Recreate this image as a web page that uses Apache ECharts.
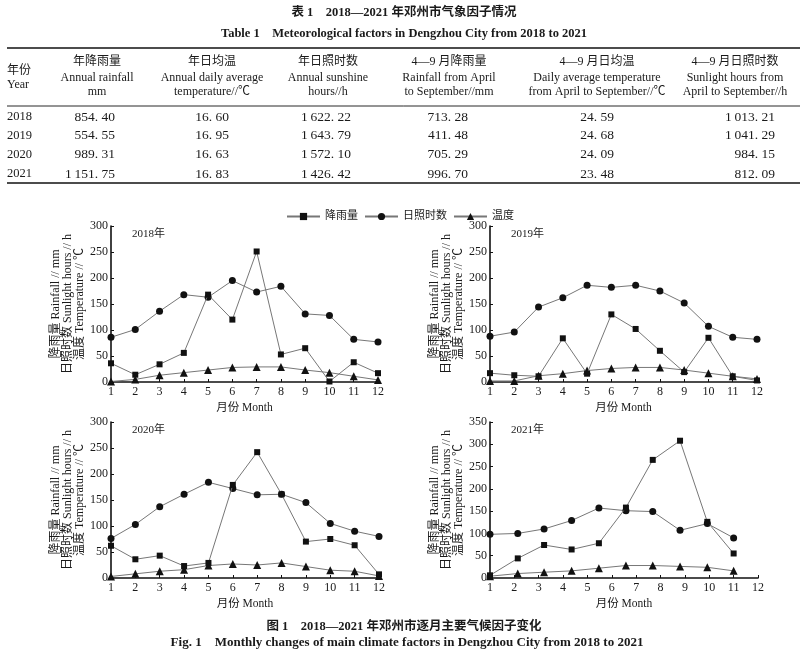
<!DOCTYPE html>
<html><head><meta charset="utf-8">
<script src="https://cdn.jsdelivr.net/npm/echarts@6/dist/echarts.min.js"></script>
<style>html,body{margin:0;padding:0;background:#fff}#main{width:800px;height:659px}</style>
</head><body><div id="main"></div>
<script>
// ---------- Table data ----------
const tableYears = ['2018', '2019', '2020', '2021'];
const annualRainfall = [854.40, 554.55, 989.31, 1151.75];
const annualTemp = [16.60, 16.95, 16.63, 16.83];
const annualSunshine = [1622.22, 1643.79, 1572.10, 1426.42];
const rainAprSep = [713.28, 411.48, 705.29, 996.70];
const tempAprSep = [24.59, 24.68, 24.09, 23.48];
const sunAprSep = [1013.21, 1041.29, 984.15, 812.09];

// ---------- Chart data ----------
const months = [1, 2, 3, 4, 5, 6, 7, 8, 9, 10, 11, 12];
const months2021 = [1, 2.14, 3.22, 4.35, 5.47, 6.58, 7.68, 8.8, 9.92, 11];
const xTicks = ['1','2','3','4','5','6','7','8','9','10','11','12'];

const rain2018 = [36, 14, 34, 56, 168, 120, 251, 53, 65, 1, 38, 17];
const sun2018 = [86, 101, 136, 168, 163, 195, 173, 184, 131, 128, 82, 77];
const temp2018 = [1, 5, 13, 18, 23, 28, 29, 29, 23, 18, 11, 4];

const rain2019 = [17, 13, 11, 84, 16, 130, 102, 60, 19, 85, 11, 3];
const sun2019 = [88, 96, 144, 162, 186, 182, 186, 175, 152, 107, 86, 82];
const temp2019 = [2, 2, 12, 16, 22, 26, 28, 28, 23, 17, 11, 6];

const rain2020 = [62, 36, 43, 23, 29, 179, 242, 161, 70, 75, 63, 7];
const sun2020 = [76, 103, 137, 161, 184, 172, 160, 161, 145, 105, 90, 80];
const temp2020 = [3, 8, 13, 16, 24, 27, 25, 29, 22, 15, 13, 4];

const rain2021 = [6, 44, 74, 64, 78, 158, 265, 308, 126, 55];
const sun2021 = [98, 100, 110, 129, 157, 151, 149, 107, 122, 90];
const temp2021 = [4, 10, 13, 16, 22, 28, 28, 26, 24, 16];

const yearLabels = ['2018年', '2019年', '2020年', '2021年'];
const seriesNames = ['降雨量', '日照时数', '温度'];
const yMaxes = [300, 300, 300, 350];

// ---------- Layout ----------
const SERIF = '"Liberation Serif","Noto Sans CJK SC",serif';
const grids = [
  {left: 111, top: 226, width: 267, height: 156},
  {left: 490, top: 226, width: 267, height: 156},
  {left: 111, top: 422, width: 268, height: 156},
  {left: 490, top: 422, width: 268, height: 156}
];
const xsAll = [months, months, months, months2021];
const rainAll = [rain2018, rain2019, rain2020, rain2021];
const sunAll = [sun2018, sun2019, sun2020, sun2021];
const tempAll = [temp2018, temp2019, temp2020, temp2021];
const symbols = ['rect', 'circle', 'triangle'];
const symSizes = [6, 7, 8];

function fmt(v) {
  const s = v.toFixed(2);
  let [ip, dp] = s.split('.');
  if (ip.length > 3) ip = ip.slice(0, ip.length - 3) + '\u2009' + ip.slice(ip.length - 3);
  return ip + '. ' + dp;
}

const graphic = [];
function txt(text, x, y, align, font, extra) {
  graphic.push(Object.assign({
    type: 'text', x: x, y: y, silent: true,
    style: {text: text, font: font, fill: '#1a1a1a', textAlign: align, textVerticalAlign: 'middle', align: align, verticalAlign: 'middle'}
  }, extra || {}));
}
function hline(y, w) {
  graphic.push({type: 'line', silent: true, shape: {x1: 7, y1: y, x2: 800, y2: y}, style: {stroke: '#111', lineWidth: w}});
}

// titles
txt('表 1　2018—2021 年邓州市气象因子情况', 404, 13, 'center', 'bold 12.5px ' + SERIF);
txt('Table 1　Meteorological factors in Dengzhou City from 2018 to 2021', 404, 34, 'center', 'bold 12.5px ' + SERIF);
hline(48, 1.6);
hline(106, 0.9);
hline(183, 1.6);

const headerFont = '12px ' + SERIF;
txt('年份', 7, 71, 'left', headerFont);
txt('Year', 7, 85, 'left', headerFont);
const headers = [
  ['年降雨量', 'Annual rainfall', 'mm'],
  ['年日均温', 'Annual daily average', 'temperature//℃'],
  ['年日照时数', 'Annual sunshine', 'hours//h'],
  ['4—9 月降雨量', 'Rainfall from April', 'to September//mm'],
  ['4—9 月日均温', 'Daily average temperature', 'from April to September//℃'],
  ['4—9 月日照时数', 'Sunlight hours from', 'April to September//h']
];
const headerCenters = [97, 212, 328, 449, 597, 735];
const headerYs = [62, 78, 92];
headers.forEach((h, c) => h.forEach((t, r) => txt(t, headerCenters[c], headerYs[r], 'center', headerFont)));

const rowYs = [117, 135.5, 154.5, 174];
const cols = [
  {vals: annualRainfall, x: 115, align: 'right'},
  {vals: annualTemp, x: 212, align: 'center'},
  {vals: annualSunshine, x: 351, align: 'right'},
  {vals: rainAprSep, x: 468, align: 'right'},
  {vals: tempAprSep, x: 597, align: 'center'},
  {vals: sunAprSep, x: 775, align: 'right'}
];
const bodyFont = '13.5px ' + SERIF;
tableYears.forEach((yr, r) => {
  txt(yr, 7, rowYs[r], 'left', '12.5px ' + SERIF);
  cols.forEach(col => txt(fmt(col.vals[r]), col.x, rowYs[r], col.align, bodyFont));
});

// year labels inside plots
grids.forEach((g, i) => txt(yearLabels[i], g.left + 21, g.top + 8, 'left', '11px ' + SERIF));

// figure captions
txt('图 1　2018—2021 年邓州市逐月主要气候因子变化', 404, 627, 'center', 'bold 12.5px ' + SERIF);
txt('Fig. 1　Monthly changes of main climate factors in Dengzhou City from 2018 to 2021', 407, 643, 'center', 'bold 13px ' + SERIF);

// ---------- Axes and series ----------
const xAxis = grids.map((g, i) => ({
  type: 'value', gridIndex: i, min: 1, max: 12, interval: 1,
  name: '月份 Month', nameLocation: 'middle', nameGap: 20,
  nameTextStyle: {fontFamily: SERIF, fontSize: 11.5, color: '#1a1a1a'},
  axisLine: {onZero: false, lineStyle: {color: '#111', width: 1.6}},
  axisTick: {inside: true, length: 3, lineStyle: {color: '#111'}},
  axisLabel: {margin: 4, fontFamily: SERIF, fontSize: 12, color: '#1a1a1a', formatter: v => xTicks[v - 1]},
  splitLine: {show: false}
}));
const yAxis = grids.map((g, i) => ({
  type: 'value', gridIndex: i, min: 0, max: yMaxes[i], interval: 50,
  name: '降雨量 Rainfall // mm\n日照时数 Sunlight hours // h\n温度 Temperature // ℃',
  nameLocation: 'middle', nameGap: 25,
  nameTextStyle: {fontFamily: SERIF, fontSize: 12, lineHeight: 12, color: '#1a1a1a'},
  axisLine: {show: true, lineStyle: {color: '#111', width: 1.6}},
  axisTick: {show: true, inside: true, length: 3, lineStyle: {color: '#111'}},
  axisLabel: {margin: 3, fontFamily: SERIF, fontSize: 12, color: '#1a1a1a'},
  splitLine: {show: false}
}));

const series = [];
grids.forEach((g, i) => {
  [rainAll[i], sunAll[i], tempAll[i]].forEach((arr, s) => {
    series.push({
      type: 'line', name: seriesNames[s], xAxisIndex: i, yAxisIndex: i,
      symbol: symbols[s], symbolSize: symSizes[s], showAllSymbol: true,
      itemStyle: {color: '#111'},
      lineStyle: {color: '#777', width: 1},
      data: xsAll[i].map((x, k) => [x, arr[k]]),
      z: 3 - s
    });
  });
});

const option = {
  animation: false,
  backgroundColor: '#fff',
  grid: grids,
  xAxis: xAxis,
  yAxis: yAxis,
  legend: {
    data: seriesNames, top: 206, left: 'center',
    itemWidth: 33, itemHeight: 9, itemGap: 6,
    textStyle: {fontFamily: SERIF, fontSize: 11, color: '#1a1a1a'}
  },
  graphic: graphic,
  series: series
};
const chart = echarts.init(document.getElementById('main'));
chart.setOption(option);
</script>
</body></html>
